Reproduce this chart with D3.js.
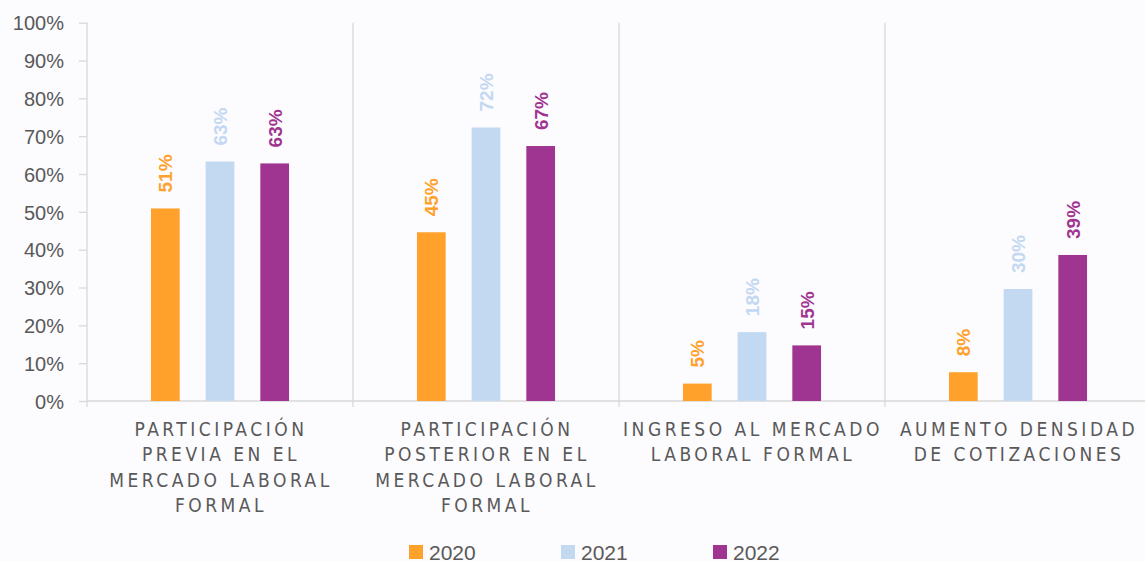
<html>
<head>
<meta http-equiv="Content-Type" content="text/html;charset=utf-8"/>
<script src="https://d3js.org/d3.v7.min.js"></script>
<style>
  body { margin: 0; background: #fcfbfe; }
  .tick text { fill: #595959; }
  .cat { font-family: "Liberation Sans Narrow", "DejaVu Sans Condensed", sans-serif; font-size: 19px; letter-spacing: 3.5px; fill: #595959; }
  .lbl { font-family: "Liberation Sans", Arial, sans-serif; font-size: 19px; font-weight: bold; }
  .leg { font-family: "Liberation Sans", Arial, sans-serif; font-size: 21px; fill: #595959; }
</style>
</head>
<body>
<div id="chart"></div>
<script>

var categories = ["Participación previa", "Participación posterior", "Ingreso", "Aumento densidad"];
var catLines = [
  ["PARTICIPACIÓN", "PREVIA EN EL", "MERCADO LABORAL", "FORMAL"],
  ["PARTICIPACIÓN", "POSTERIOR EN EL", "MERCADO LABORAL", "FORMAL"],
  ["INGRESO AL MERCADO", "LABORAL FORMAL"],
  ["AUMENTO DENSIDAD", "DE COTIZACIONES"]
];
var years = ["2020", "2021", "2022"];
var v2020 = [0.509, 0.446, 0.046, 0.076];
var v2021 = [0.633, 0.723, 0.182, 0.296];
var v2022 = [0.628, 0.674, 0.147, 0.386];
var yTicks = [0, 0.1, 0.2, 0.3, 0.4, 0.5, 0.6, 0.7, 0.8, 0.9, 1];
var colors = ["#ffa12b", "#c3d8f1", "#a03591"];

var series = [v2020, v2021, v2022];
var w = 1145, h = 561;
var mLeft = 87, mTop = 22.7, mBottom = 401;
var band = 266;

var svg = d3.select("#chart").append("svg")
    .attr("width", w)
    .attr("height", h);

var x0 = d3.scaleBand().domain(categories).range([mLeft, mLeft + band * categories.length]);
var x1 = d3.scaleBand().domain(years).range([0, band]).paddingInner(0.475).paddingOuter(1.17);
var y = d3.scaleLinear().domain([0, 1]).range([mBottom, mTop]);

// separators between categories
svg.selectAll("line.sep")
    .data(categories.concat(["end"]))
    .enter().append("line")
    .attr("class", "sep")
    .attr("x1", function(d, i) { return mLeft + band * i; })
    .attr("x2", function(d, i) { return mLeft + band * i; })
    .attr("y1", mTop)
    .attr("y2", mBottom + 6)
    .attr("stroke", "#d9d9d9")
    .attr("stroke-width", 1.3);

// y axis
var yAxis = svg.append("g")
    .attr("transform", "translate(" + mLeft + ",0)")
    .call(d3.axisLeft(y).tickValues(yTicks).tickFormat(d3.format(".0%")).tickSize(8).tickPadding(15));
yAxis.select(".domain").remove();
yAxis.selectAll(".tick line").attr("stroke", "#d9d9d9").attr("stroke-width", 1.3);
yAxis.selectAll(".tick text")
    .style("font-family", "Liberation Sans, Arial, sans-serif")
    .style("font-size", "20px")
    .attr("dy", "0.36em");

// baseline
svg.append("line")
    .attr("x1", mLeft).attr("x2", w)
    .attr("y1", mBottom).attr("y2", mBottom)
    .attr("stroke", "#d9d9d9").attr("stroke-width", 1.3);

var groups = svg.selectAll("g.grp")
    .data(categories)
    .enter().append("g")
    .attr("class", "grp")
    .attr("transform", function(d) { return "translate(" + x0(d) + ",0)"; });

years.forEach(function(yr, s) {
    groups.append("rect")
        .attr("x", x1(yr))
        .attr("width", x1.bandwidth())
        .attr("y", function(d, i) { return y(series[s][i]); })
        .attr("height", function(d, i) { return mBottom - y(series[s][i]); })
        .attr("fill", colors[s]);

    groups.append("text")
        .attr("class", "lbl")
        .attr("transform", function(d, i) {
            return "translate(" + (x1(yr) + x1.bandwidth() / 2) + "," + (y(series[s][i]) - 16) + ") rotate(-90)";
        })
        .attr("dy", "0.36em")
        .attr("fill", colors[s])
        .text(function(d, i) { return d3.format(".0%")(series[s][i]); });
});

// category labels
groups.each(function(d, i) {
    var t = d3.select(this).append("text")
        .attr("class", "cat")
        .attr("text-anchor", "middle");
    catLines[i].forEach(function(line, j) {
        t.append("tspan")
            .attr("x", band / 2 + 1)
            .attr("y", 436 + j * 25.3)
            .text(line);
    });
});

// legend
var legX = [409, 561, 713];
var leg = svg.selectAll("g.leg")
    .data(years)
    .enter().append("g")
    .attr("transform", function(d, i) { return "translate(" + legX[i] + ",545)"; });
leg.append("rect")
    .attr("width", 14).attr("height", 14)
    .attr("fill", function(d, i) { return colors[i]; });
leg.append("text")
    .attr("class", "leg")
    .attr("x", 20)
    .attr("y", 14.5)
    .text(function(d) { return d; });

</script>
</body>
</html>
